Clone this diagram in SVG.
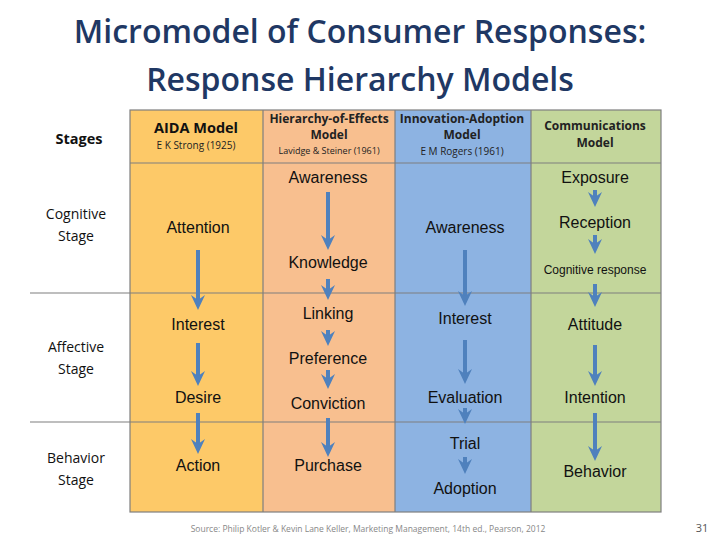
<svg xmlns="http://www.w3.org/2000/svg" width="720" height="540" viewBox="0 0 720 540">
<style>
.t{font-family:"Open Sans","Liberation Sans",sans-serif;font-weight:600;fill:#1f3864;font-size:32px;text-anchor:middle}
.h{font-family:"Open Sans","Liberation Sans",sans-serif;font-weight:bold;fill:#222;font-size:12px;text-anchor:middle}
.hb{font-family:"Open Sans","Liberation Sans",sans-serif;font-weight:bold;fill:#111;font-size:14.5px;text-anchor:middle}
.s{font-family:"Open Sans","Liberation Sans",sans-serif;fill:#222;font-size:10px;text-anchor:middle}
.st{font-family:"Open Sans","Liberation Sans",sans-serif;fill:#111;font-size:14px;text-anchor:middle}
.n{font-family:"Liberation Sans",Arial,sans-serif;fill:#111;font-size:16px;text-anchor:middle}
.c{stroke:#7f7f7f;stroke-width:1.2}
.a{stroke:#4f81bd;stroke-width:4;fill:none;marker-end:url(#ah)}
</style>
<defs>
<marker id="ah" markerUnits="userSpaceOnUse" markerWidth="16" markerHeight="16" viewBox="0 0 16 16" refX="5" refY="8" orient="auto">
<path d="M0 1 L15 8 L0 15 L5 8 Z" fill="#4f81bd"/>
</marker>
</defs>
<rect width="720" height="540" fill="#fff"/>
<text class="t" x="360" y="43">Micromodel of Consumer Responses:</text>
<text class="t" x="360" y="91">Response Hierarchy Models</text>
<g id="columns">
<rect x="130" y="110" width="133" height="402" fill="#fdc968"/>
<rect x="263" y="110" width="132" height="402" fill="#f8bf8f"/>
<rect x="395" y="110" width="136" height="402" fill="#8db3e2"/>
<rect x="531" y="110" width="130" height="402" fill="#c3d69b"/>
<rect x="130" y="110" width="531" height="402" fill="none" class="c"/>
<line class="c" x1="263" y1="110" x2="263" y2="512"/>
<line class="c" x1="395" y1="110" x2="395" y2="512"/>
<line class="c" x1="531" y1="110" x2="531" y2="512"/>
<line class="c" x1="130" y1="163" x2="661" y2="163"/>
<line class="c" x1="30" y1="293" x2="661" y2="293"/>
<line class="c" x1="30" y1="422" x2="661" y2="422"/>
</g>
<g id="stages">
<text class="hb" x="79" y="144">Stages</text>
<text class="st" x="76" y="219">Cognitive</text><text class="st" x="76" y="241">Stage</text>
<text class="st" x="76" y="352">Affective</text><text class="st" x="76" y="374">Stage</text>
<text class="st" x="76" y="463">Behavior</text><text class="st" x="76" y="485">Stage</text>
</g>
<g id="aida">
<text class="hb" x="196" y="133">AIDA Model</text>
<text class="s" x="196" y="149">E K Strong (1925)</text>
<text class="n" x="198" y="233">Attention</text>
<text class="n" x="198" y="330">Interest</text>
<text class="n" x="198" y="403">Desire</text>
<text class="n" x="198" y="471">Action</text>
</g>
<g id="hoe">
<text class="h" x="329" y="123">Hierarchy-of-Effects</text>
<text class="h" x="329" y="139">Model</text>
<text class="s" x="329" y="154" style="font-size:9px">Lavidge &amp; Steiner (1961)</text>
<text class="n" x="328" y="183">Awareness</text>
<text class="n" x="328" y="268">Knowledge</text>
<text class="n" x="328" y="319">Linking</text>
<text class="n" x="328" y="364">Preference</text>
<text class="n" x="328" y="409">Conviction</text>
<text class="n" x="328" y="471">Purchase</text>
</g>
<g id="ia">
<text class="h" x="462" y="123">Innovation-Adoption</text>
<text class="h" x="462" y="139">Model</text>
<text class="s" x="462" y="155">E M Rogers (1961)</text>
<text class="n" x="465" y="233">Awareness</text>
<text class="n" x="465" y="324">Interest</text>
<text class="n" x="465" y="403">Evaluation</text>
<text class="n" x="465" y="449">Trial</text>
<text class="n" x="465" y="494">Adoption</text>
</g>
<g id="comm">
<text class="h" x="595" y="130">Communications</text>
<text class="h" x="595" y="147">Model</text>
<text class="n" x="595" y="183">Exposure</text>
<text class="n" x="595" y="228">Reception</text>
<text class="n" x="595" y="274" style="font-size:12px">Cognitive response</text>
<text class="n" x="595" y="330">Attitude</text>
<text class="n" x="595" y="403">Intention</text>
<text class="n" x="595" y="477">Behavior</text>
</g>
<g id="connectors">
<path class="a" d="M198 250V300"/><path class="a" d="M198 343V376"/><path class="a" d="M198 413V444"/>
<path class="a" d="M328 192V240"/><path class="a" d="M328 279V290"/><path class="a" d="M328 330V336"/><path class="a" d="M328 370V379"/><path class="a" d="M328 418V447"/>
<path class="a" d="M465 250V296"/><path class="a" d="M465 340V374"/><path class="a" d="M465 408V414"/><path class="a" d="M465 457V464"/>
<path class="a" d="M595 190V197"/><path class="a" d="M595 235V244"/><path class="a" d="M595 284V297"/><path class="a" d="M595 345V376"/><path class="a" d="M595 413V451"/>
</g>
<text x="368" y="532" font-family="Open Sans, Liberation Sans, sans-serif" font-size="8.5" fill="#888" text-anchor="middle">Source: Philip Kotler &amp; Kevin Lane Keller, Marketing Management, 14th ed., Pearson, 2012</text>
<text x="702" y="532" font-family="Open Sans, Liberation Sans, sans-serif" font-size="11" fill="#555" text-anchor="middle">31</text>
</svg>
